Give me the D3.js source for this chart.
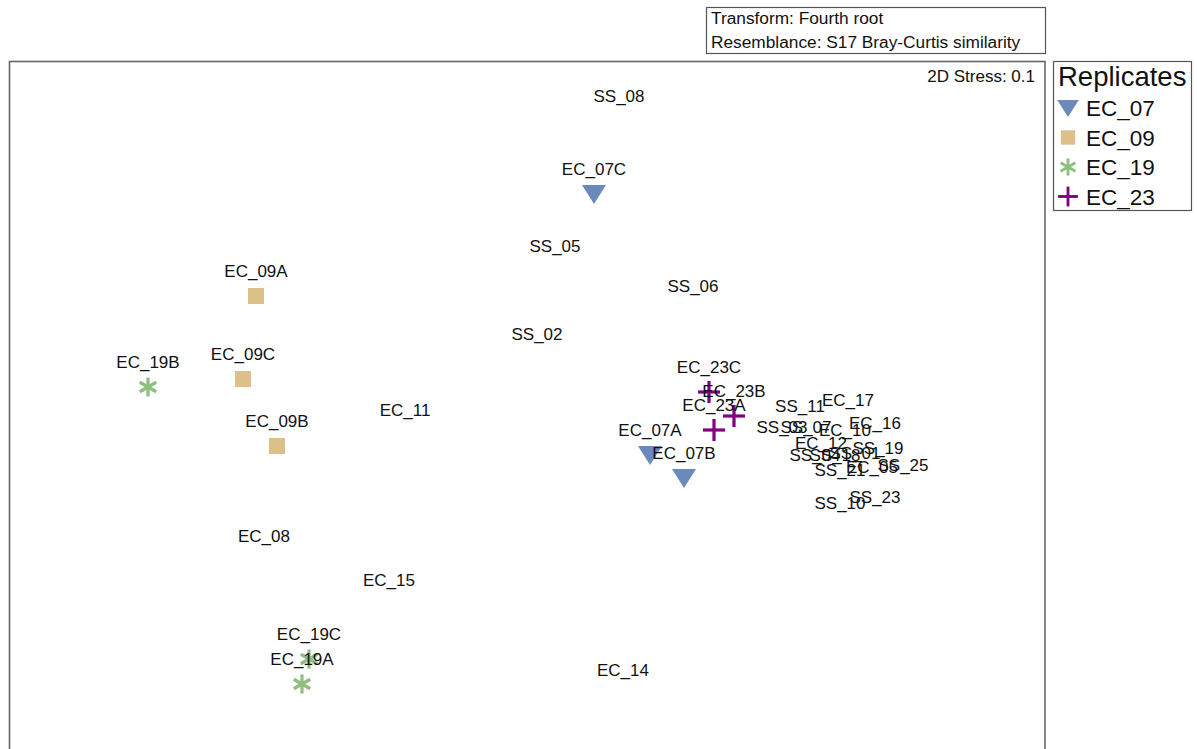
<!DOCTYPE html>
<html><head><meta charset="utf-8">
<script src="https://cdn.jsdelivr.net/npm/d3@7"></script>
<style>body{margin:0;background:#fff;} svg{display:block;font-family:"Liberation Sans",Arial,sans-serif;}</style>
</head><body>
<svg id="c" width="1197" height="749"></svg>
<script>
// Replicate samples (with markers)
const repNames  = ["EC_07C","EC_07A","EC_07B","EC_09A","EC_09C","EC_09B","EC_19B","EC_19C","EC_19A","EC_23C","EC_23B","EC_23A"];
const repGroups = ["EC_07","EC_07","EC_07","EC_09","EC_09","EC_09","EC_19","EC_19","EC_19","EC_23","EC_23","EC_23"];
const repX = [0.268,0.492,0.628,-1.084,-1.136,-1.0,-1.516,-0.872,-0.9,0.728,0.828,0.748];
const repY = [0.848,-0.196,-0.288,0.44,0.108,-0.16,0.076,-1.012,-1.112,0.056,-0.04,-0.096];
// Other samples (labels only)
const otherNames = ["SS_08","SS_05","SS_06","SS_02","EC_11","EC_08","EC_15","EC_14","SS_11","EC_17","SS_03","SS_07","EC_10","EC_16","EC_12","SS_19","SS_04","SS_18","SS_01","SS_21","EC_05","SS_25","SS_23","SS_10"];
const otherX = [0.368,0.112,0.664,0.04,-0.488,-1.052,-0.552,0.384,1.092,1.284,1.02,1.116,1.272,1.392,1.176,1.404,1.152,1.232,1.312,1.252,1.38,1.504,1.392,1.252];
const otherY = [1.14,0.54,0.38,0.188,-0.116,-0.62,-0.796,-1.156,-0.1,-0.076,-0.184,-0.184,-0.196,-0.168,-0.248,-0.268,-0.296,-0.296,-0.288,-0.356,-0.344,-0.336,-0.464,-0.488];
const groups = ["EC_07","EC_09","EC_19","EC_23"];
const groupColors = ["#6a8bba","#dcc08a","#8cbf80","#800080"];
const titleLines = ["Transform: Fourth root","Resemblance: S17 Bray-Curtis similarity"];
const stressText = "2D Stress: 0.1";
const legendTitle = "Replicates";

const svg = d3.select("#c");
const x = d3.scaleLinear().domain([-2.072, 2.072]).range([9, 1045]);
const y = d3.scaleLinear().domain([1.38, -1.5]).range([61, 781]);
const color = d3.scaleOrdinal().domain(groups).range(groupColors);

function drawSymbol(g, grp, cx, cy, s) {
  const c = color(grp);
  if (grp === "EC_07") {
    g.append("path").attr("d", `M${cx-12*s},${cy-9*s}L${cx+12*s},${cy-9*s}L${cx},${cy+10*s}Z`).attr("fill", c);
  } else if (grp === "EC_09") {
    g.append("rect").attr("x", cx-8*s).attr("y", cy-8*s).attr("width", 16*s).attr("height", 16*s).attr("fill", c);
  } else if (grp === "EC_19") {
    const r = 9.5*s;
    [0,60,120].forEach(a => {
      const rad = a*Math.PI/180;
      g.append("line").attr("x1", cx - r*Math.sin(rad)).attr("y1", cy - r*Math.cos(rad))
        .attr("x2", cx + r*Math.sin(rad)).attr("y2", cy + r*Math.cos(rad))
        .attr("stroke", c).attr("stroke-width", 3.2*s);
    });
  } else {
    const r = 11*s;
    g.append("line").attr("x1", cx-r).attr("y1", cy).attr("x2", cx+r).attr("y2", cy).attr("stroke", c).attr("stroke-width", 3.2*s);
    g.append("line").attr("x1", cx).attr("y1", cy-r).attr("x2", cx).attr("y2", cy+r).attr("stroke", c).attr("stroke-width", 3.2*s);
  }
}

// Title box
svg.append("rect").attr("x", 706.5).attr("y", 7.5).attr("width", 339).attr("height", 46)
  .attr("fill", "none").attr("stroke", "#555").attr("stroke-width", 1.2);
titleLines.forEach((t, i) => svg.append("text").attr("x", 711).attr("y", 24 + i*24)
  .attr("font-size", 17.3).attr("fill", "#111").text(t));

// Plot frame (bottom edge is off-screen)
svg.append("rect").attr("x", 9.5).attr("y", 61.5).attr("width", 1035.5).attr("height", 760)
  .attr("fill", "none").attr("stroke", "#666").attr("stroke-width", 1.6);

svg.append("text").attr("x", 1035).attr("y", 82).attr("text-anchor", "end")
  .attr("font-size", 17).attr("fill", "#111").text(stressText);

// Other labels
const gL = svg.append("g");
otherNames.forEach((n, i) => {
  gL.append("text").attr("x", x(otherX[i])).attr("y", y(otherY[i]) - 19)
    .attr("text-anchor", "middle").attr("font-size", 17).attr("fill", "#111").text(n);
});
// Replicate markers and labels
const gM = svg.append("g");
repNames.forEach((n, i) => drawSymbol(gM, repGroups[i], x(repX[i]), y(repY[i]), 1));
repNames.forEach((n, i) => {
  gM.append("text").attr("x", x(repX[i])).attr("y", y(repY[i]) - 19)
    .attr("text-anchor", "middle").attr("font-size", 17).attr("fill", "#111").text(n);
});

// Legend
svg.append("rect").attr("x", 1053.5).attr("y", 61.5).attr("width", 138).attr("height", 149)
  .attr("fill", "none").attr("stroke", "#555").attr("stroke-width", 1.2);
svg.append("text").attr("x", 1058).attr("y", 86).attr("font-size", 27.5).attr("fill", "#111").text(legendTitle);
const gLeg = svg.append("g");
groups.forEach((g, i) => {
  const cy = 108 + i*29.5;
  drawSymbol(gLeg, g, 1068, cy, 0.9);
  gLeg.append("text").attr("x", 1086).attr("y", cy + 8).attr("font-size", 22.5).attr("fill", "#111").text(g);
});
</script>
</body></html>
